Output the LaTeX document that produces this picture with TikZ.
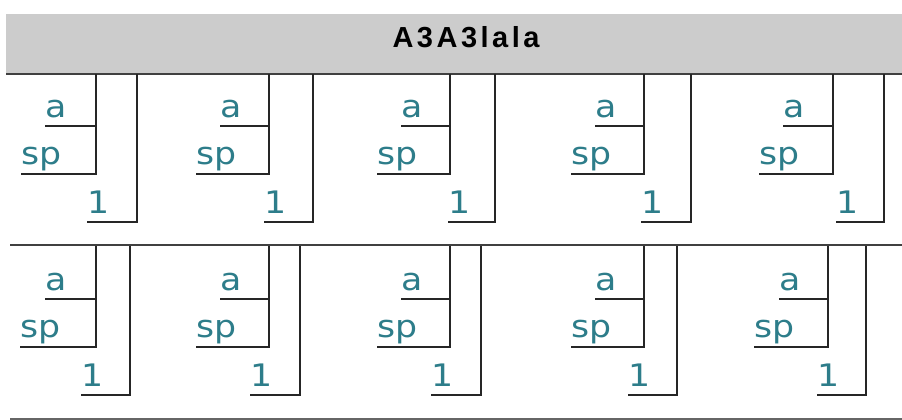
\documentclass[tikz,border=0pt]{standalone}
\usepackage{fontspec}
\setmainfont{Liberation Sans}
\newfontfamily\titlefont[LetterSpace=12]{Liberation Sans}
\newfontfamily\labelfont{DejaVu Sans}
\definecolor{labelteal}{RGB}{45,125,138}
\definecolor{headgray}{RGB}{204,204,204}
\tikzset{
  lbl/.style={font=\labelfont\fontsize{31}{31}\selectfont, text=labelteal, inner sep=0pt, anchor=base west, xscale=1.12},
  wire/.style={line width=2pt, draw=black!85},
  rule/.style={line width=2pt, draw=black!75},
}
\begin{document}
\begin{tikzpicture}[x=1pt, y=-1pt]
    \useasboundingbox[fill=white] (0,0) rectangle (902,420);
    % Header band with the title
    \fill[headgray] (6,14) rectangle (902,73);
    \node[font=\titlefont\bfseries\fontsize{29}{29}\selectfont, anchor=base, inner sep=0pt] (title) at (466,48) {A3A3lala};
    % Row rules
    \coordinate (r0w) at (6,74);   \coordinate (r0e) at (902,74);
    \coordinate (r1w) at (10,245); \coordinate (r1e) at (902,245);
    \coordinate (r2w) at (10,419); \coordinate (r2e) at (902,419);
    \draw[rule] (r0w) -- (r0e);
    \draw[rule] (r1w) -- (r1e);
    \draw[rule, draw=black!60] (r2w) -- (r2e);
    % Brackets: row / top / a-line / sp-line / 1-line, then per column
    % a-start / sp-start / inner / 1-start / outer
    \foreach \r/\top/\ya/\ysp/\yone/\cols in {
        1/74/126/174/222/{45/21/96/87/137, 220/196/269/264/313, 401/377/450/448/495, 595/571/644/641/691, 783/759/833/836/884},
        2/246/299/347/395/{45/20/96/81/130, 220/196/269/250/300, 401/377/450/431/481, 595/571/644/628/677, 779/754/828/817/866}} {
      \foreach \ax/\spx/\inx/\onex/\outx [count=\c] in \cols {
        \node[lbl] (a-\r-\c) at (\ax,\ya-9) {a};
        \node[lbl] (sp-\r-\c) at (\spx,\ysp-10) {sp};
        \node[lbl] (one-\r-\c) at (\onex,\yone-9) {1};
        \coordinate (as-\r-\c) at (\ax,\ya);
        \coordinate (ss-\r-\c) at (\spx,\ysp);
        \coordinate (os-\r-\c) at (\onex,\yone);
        \coordinate (it-\r-\c) at (\inx,\top);
        \coordinate (ot-\r-\c) at (\outx,\top);
        \draw[wire] (as-\r-\c) -- (as-\r-\c -| it-\r-\c);
        \draw[wire] (ss-\r-\c) -- (ss-\r-\c -| it-\r-\c) -- (it-\r-\c);
        \draw[wire] (os-\r-\c) -- (os-\r-\c -| ot-\r-\c) -- (ot-\r-\c);
      }
    }
\end{tikzpicture}
\end{document}
